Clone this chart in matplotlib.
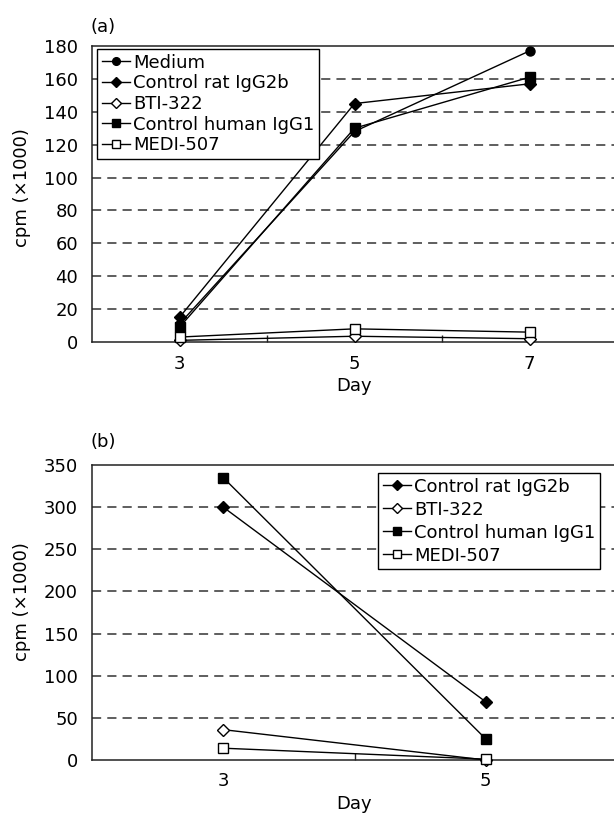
import matplotlib
matplotlib.use("Agg")
import matplotlib.pyplot as plt
from matplotlib.ticker import FixedLocator

plt.rcParams['font.family'] = ['DejaVu Sans']

# Panel (a)
days_a = ["3", "5", "7"]
medium_a = [11, 128, 177]
rat_a = [15, 145, 157]
bti_a = [1, 3.5, 2]
human_a = [9, 130, 161]
medi_a = [3, 8, 6]
yticks_a = [0, 20, 40, 60, 80, 100, 120, 140, 160, 180]

# Panel (b)
days_b = ["3", "5"]
rat_b = [300, 69]
bti_b = [36, 0]
human_b = [335, 25]
medi_b = [14, 1]
yticks_b = [0, 50, 100, 150, 200, 250, 300, 350]

W, H = 614, 817
fig = plt.figure(figsize=(W / 100, H / 100), dpi=100)

FS = 13

def fx(px):
    return px / W

def fy(py):
    return 1 - py / H

ax_a = fig.add_axes([fx(92), fy(342), fx(525), fy(46) - fy(342)])
ax_b = fig.add_axes([fx(92), fy(760), fx(525), fy(465) - fy(760)])

styles = {
    "Medium": dict(marker="o", mfc="black", ms=6.5),
    "Control rat IgG2b": dict(marker="D", mfc="black", ms=6.5),
    "BTI-322": dict(marker="D", mfc="white", ms=6.5),
    "Control human IgG1": dict(marker="s", mfc="black", ms=6.5),
    "MEDI-507": dict(marker="s", mfc="white", ms=6.5),
}

def draw(ax, cats, series, yticks, legend_xy, spacing):
    x = list(range(len(cats)))
    for name, vals in series:
        st = styles[name]
        ax.plot(x, vals, color="black", lw=1.0, marker=st["marker"],
                mfc=st["mfc"], mec="black", mew=1.0, ms=st["ms"], label=name,
                zorder=3, clip_on=False)
    ax.set_xlim(-0.5, len(cats) - 0.5)
    ax.set_ylim(yticks[0], yticks[-1])
    ax.set_xticks(x)
    ax.set_xticklabels(cats, fontsize=FS)
    ax.xaxis.set_minor_locator(FixedLocator([i + 0.5 for i in range(len(cats) - 1)]))
    ax.tick_params(axis="x", which="major", length=0, pad=9)
    ax.tick_params(axis="x", which="minor", length=5, direction="in", width=1.0, color="#222222")
    ax.set_yticks(yticks)
    ax.set_yticklabels([str(v) for v in yticks], fontsize=FS)
    ax.tick_params(axis="y", length=0, pad=10)
    for v in yticks[1:-1]:
        ax.axhline(v, color="#333333", lw=1.1, ls=(0, (6, 4)), zorder=1)
    for s in ["left", "bottom", "top"]:
        ax.spines[s].set_color("#222222")
        ax.spines[s].set_linewidth(1.1)
    ax.spines["right"].set_visible(False)
    leg = ax.legend(loc="upper left", bbox_to_anchor=(fx(legend_xy[0]), fy(legend_xy[1])),
                    bbox_transform=fig.transFigure, borderaxespad=0,
                    fontsize=FS, frameon=True, fancybox=False, framealpha=1,
                    edgecolor="black", handlelength=1.6, handletextpad=0.15,
                    labelspacing=spacing, borderpad=0.25, markerscale=0.85)
    leg.get_frame().set_linewidth(1.0)
    ax.set_xlabel("")

draw(ax_a, days_a, [("Medium", medium_a), ("Control rat IgG2b", rat_a), ("BTI-322", bti_a),
                    ("Control human IgG1", human_a), ("MEDI-507", medi_a)],
     yticks_a, (97, 49), 0.15)
draw(ax_b, days_b, [("Control rat IgG2b", rat_b), ("BTI-322", bti_b),
                    ("Control human IgG1", human_b), ("MEDI-507", medi_b)],
     yticks_b, (378, 473), 0.28)

fig.text(fx(90), fy(27), "(a)", fontsize=FS, ha="left", va="center")
fig.text(fx(90), fy(442), "(b)", fontsize=FS, ha="left", va="center")
fig.text(fx(22), fy(188), "cpm (×1000)", fontsize=FS, rotation=90, ha="center", va="center")
fig.text(fx(22), fy(602), "cpm (×1000)", fontsize=FS, rotation=90, ha="center", va="center")
fig.text(fx(354), fy(386), "Day", fontsize=FS, ha="center", va="center")
fig.text(fx(354), fy(804), "Day", fontsize=FS, ha="center", va="center")

fig.savefig("out.png", dpi=100)
